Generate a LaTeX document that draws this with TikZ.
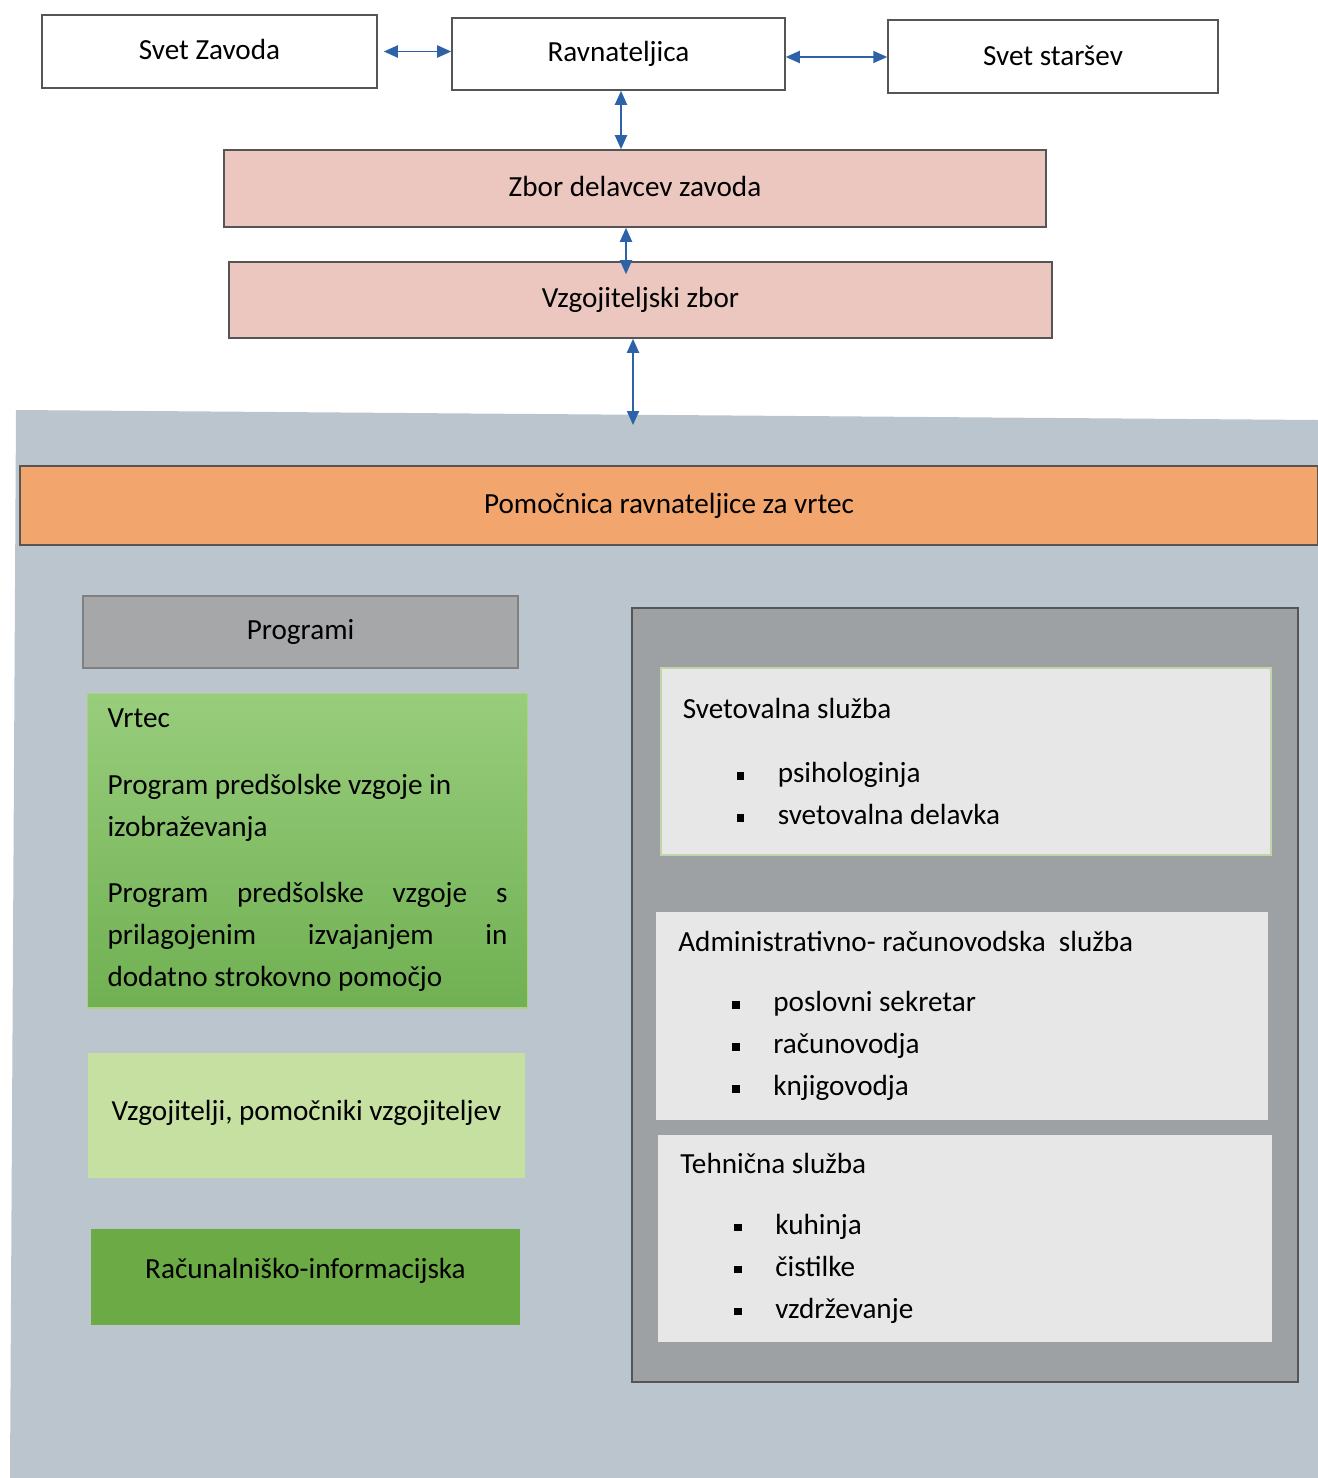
\documentclass[tikz,border=0pt]{standalone}
\usepackage{fontspec}
\setmainfont{Carlito}
\usetikzlibrary{arrows.meta}
\definecolor{linkblue}{RGB}{46,98,168}
\definecolor{rimgray}{RGB}{85,85,85}
\definecolor{panelbg}{RGB}{186,197,205}
\definecolor{pinkfill}{RGB}{236,199,191}
\definecolor{orangefill}{RGB}{242,166,110}
\definecolor{progfill}{RGB}{166,167,168}
\definecolor{servpanel}{RGB}{158,161,164}
\definecolor{servfill}{RGB}{230,231,230}
\definecolor{paleedge}{RGB}{190,214,168}
\definecolor{lightgreen}{RGB}{198,224,162}
\definecolor{darkgreen}{RGB}{108,170,70}
\newcommand{\nsp}{\spaceskip=0pt\xspaceskip=0pt\relax}
\newcommand{\jline}[1]{\makebox[8cm][s]{\nsp#1}}
\newcommand{\itm}[1]{\hspace*{1.08cm}\makebox[0.82cm][l]{\rule[0.06cm]{0.15cm}{0.15cm}}#1}
\tikzset{
  txt/.style={font=\fontsize{16.6}{24}\selectfont, text=black},
  box/.style={txt, draw=rimgray, line width=0.9pt, rectangle},
  plain/.style={box, fill=white},
  pinkbox/.style={box, fill=pinkfill},
  servbox/.style={txt, rectangle, fill=servfill, align=left, inner xsep=0.44cm, anchor=west},
  link/.style={draw=linkblue, line width=1.1pt, {Triangle[length=0.28cm,width=0.24cm]}-{Triangle[length=0.28cm,width=0.24cm]}}
}
\begin{document}
\begin{tikzpicture}[x=0.02cm, y=-0.02cm]
  \useasboundingbox (0,0) rectangle (1318,1478);
  % top of the chart
  \node[plain, minimum width=6.7cm, minimum height=1.46cm] (svz) at (209.5,51.5) {\raisebox{0.08cm}{Svet Zavoda}};
  \node[plain, minimum width=6.66cm, minimum height=1.44cm] (rav) at (618.5,54) {\raisebox{0.06cm}{Ravnateljica}};
  \node[plain, minimum width=6.6cm, minimum height=1.46cm] (sst) at (1053,56.5) {\raisebox{0.04cm}{Svet star\v{s}ev}};
  \node[pinkbox, minimum width=16.44cm, minimum height=1.54cm] (zbor) at (635,188.5) {\raisebox{0.08cm}{Zbor delavcev zavoda}};
  \node[pinkbox, minimum width=16.46cm, minimum height=1.52cm] (vzb) at (640.5,300) {Vzgojiteljski zbor};
  % the vrtec part
  \fill[panelbg] (16,410) -- (1318,420) -- (1318,1478) -- (10,1478) -- cycle;
  \coordinate (pnltop) at (633,425);
  \node[box, fill=orangefill, minimum width=25.96cm, minimum height=1.58cm] (pom) at (669,505.5) {Pomo\v{c}nica ravnateljice za vrtec};
  \node[box, fill=progfill, draw=gray, minimum width=8.7cm, minimum height=1.44cm] (prog) at (300.5,632) {Programi};
  \node[txt, rectangle, top color={rgb,255:red,152;green,205;blue,124}, bottom color={rgb,255:red,112;green,176;blue,82},
        draw=lightgreen!70!darkgreen, line width=0.6pt, text width=8cm, inner xsep=0.4cm, minimum height=6.3cm, align=left] (vrtec) at (307.5,850.5)
    {\nsp Vrtec\\[0.48cm]
     Program pred\v{s}olske vzgoje in\\
     izobra\v{z}evanja\\[0.48cm]
     \jline{Program pred\v{s}olske vzgoje s}\\
     \jline{prilagojenim izvajanjem in}\\
     dodatno strokovno pomo\v{c}jo};
  \node[txt, rectangle, fill=lightgreen, minimum width=8.74cm, minimum height=2.5cm] (vzg) at (306.5,1115.5)
    {\raisebox{0.22cm}{Vzgojitelji, pomo\v{c}niki vzgojiteljev}};
  \node[txt, rectangle, fill=darkgreen, minimum width=8.58cm, minimum height=1.92cm] (rin) at (305.5,1277)
    {\raisebox{0.36cm}{Ra\v{c}unalni\v{s}ko-informacijska}};
  \node[box, fill=servpanel, minimum width=13.32cm, minimum height=15.48cm] (serv) at (965,995) {};
  \node[servbox, draw=paleedge, line width=1pt, text width=11.32cm, minimum height=3.74cm] (svt) at (660,761.5)
    {\nsp Svetovalna slu\v{z}ba\\[0.44cm]
     \itm{psihologinja}\\
     \itm{svetovalna delavka}};
  \node[servbox, text width=11.36cm, minimum height=4.16cm] (adm) at (656,1016)
    {\nsp\raisebox{-0.08cm}{Administrativno- ra\v{c}unovodska\ \ slu\v{z}ba}\\[0.44cm]
     \itm{poslovni sekretar}\\
     \itm{ra\v{c}unovodja}\\
     \itm{knjigovodja}};
  \node[servbox, text width=11.4cm, minimum height=4.14cm] (teh) at (658,1238.5)
    {\nsp\raisebox{-0.08cm}{Tehni\v{c}na slu\v{z}ba}\\[0.44cm]
     \itm{kuhinja}\\
     \itm{\v{c}istilke}\\
     \itm{vzdr\v{z}evanje}};
  % connectors
  \draw[link] ([xshift=0.12cm]svz.east) -- (svz.east -| rav.west);
  \draw[link] ([yshift=-0.06cm]rav.east) -- ([yshift=-0.06cm]rav.east -| sst.west);
  \draw[link] ([xshift=0.05cm]rav.south) -- ([xshift=0.05cm]rav.south |- zbor.north);
  \draw[link] ([xshift=-0.18cm]zbor.south) -- ([xshift=-0.18cm,yshift=-0.26cm]zbor.south |- vzb.north);
  \draw[link] ([xshift=-0.15cm]vzb.south) -- ([xshift=-0.15cm]vzb.south |- pnltop);
\end{tikzpicture}
\end{document}
